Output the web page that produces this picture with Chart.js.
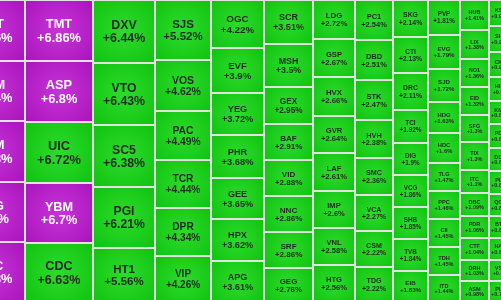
<!DOCTYPE html>
<html>
<head>
<meta charset="utf-8">
<title>Heatmap</title>
<script src="https://cdn.jsdelivr.net/npm/chart.js@4.4.1/dist/chart.umd.min.js"></script>
<style>
  html, body { margin: 0; padding: 0; background: #fff; overflow: hidden; }
  .chart-box { width: 501px; height: 300px; }
</style>
</head>
<body>
<div class="chart-box"><canvas id="heatmapChart"></canvas></div>
<script>
// stocks, sorted by % change (descending)
const tickers = [
  'SGT', 'DHM', 'TCM', 'VPG', 'PTC',
  'TMT', 'ASP', 'UIC', 'YBM', 'CDC',
  'DXV', 'VTO', 'SC5', 'PGI', 'HT1',
  'SJS', 'VOS', 'PAC', 'TCR', 'DPR', 'VIP',
  'OGC', 'EVF', 'YEG', 'PHR', 'GEE', 'HPX', 'APG',
  'SCR', 'MSH', 'GEX', 'BAF', 'VID', 'NNC', 'SRF', 'GEG',
  'LDG', 'GSP', 'HVX', 'GVR', 'LAF', 'IMP', 'VNL', 'HTG',
  'PC1', 'DBD', 'STK', 'HVH', 'SMC', 'VCA', 'CSM', 'TDG',
  'SKG', 'CTI', 'DRC',
  'TCI', 'DIG', 'VCG', 'SHB', 'TVB', 'EIB', 'PVP', 'EVG',
  'SJD', 'HDG', 'HDC',
  'TLG', 'PPC', 'CII',
  'TDH', 'ITD', 'HUB', 'LIX', 'NO1', 'EID', 'SFG', 'TIX',
  'ITC', 'DBC', 'PDR', 'CTF', 'DRH', 'ASM', 'KSB', 'SHP', 'CKG',
  'HHV', 'KMR', 'PDN', 'DCM', 'PLX', 'QCG', 'BTP', 'HAG', 'VSC', 'PLP'
];

const changes = [
  6.96, 6.94, 6.93, 6.9, 6.88,
  6.86, 6.8, 6.72, 6.7, 6.63,
  6.44, 6.43, 6.38, 6.21, 5.56,
  5.52, 4.62, 4.49, 4.44, 4.34, 4.26,
  4.22, 3.9, 3.72, 3.68, 3.65, 3.62, 3.61,
  3.51, 3.5, 2.95, 2.91, 2.88, 2.86, 2.86, 2.76,
  2.72, 2.67, 2.66, 2.64, 2.61, 2.6, 2.58, 2.56,
  2.54, 2.51, 2.47, 2.38, 2.36, 2.27, 2.22, 2.22,
  2.14, 2.13, 2.11,
  1.92, 1.9, 1.86, 1.85, 1.84, 1.83, 1.81, 1.79,
  1.72, 1.63, 1.6,
  1.47, 1.46, 1.45,
  1.45, 1.44, 1.41, 1.38, 1.36, 1.32, 1.3, 1.3,
  1.1, 1.09, 1.06, 1.04, 1.03, 0.98, 0.98, 0.96, 0.94,
  0.9, 0.88, 0.88, 0.87, 0.85, 0.83, 0.82, 0.81, 0.8, 0.79
];

// stocks closing at the ceiling price
const ceilingTickers = ['SGT', 'DHM', 'TCM', 'VPG', 'PTC', 'TMT', 'ASP', 'YBM'];

const BOX_H = 302;          // treemap height, layout units
const AREA_PER_POINT = 607; // layout area for 1 % of change
const SQUARE_RATIO = 1.13;

// vertical strip treemap: fill full-height columns, left to right
function stripLayout(values, width, height) {
  const total = values.reduce((a, b) => a + b, 0);
  const colPerValue = width / total;
  const worst = (s, maxV, minV) => {
    const u = s * s * colPerValue / height / SQUARE_RATIO;
    return Math.max(maxV / u, u / minV);
  };
  const rects = [];
  let x = 0, i0 = 0;
  while (i0 < values.length) {
    let sum = values[i0], maxV = sum, minV = sum;
    let best = worst(sum, maxV, minV);
    let i1 = i0 + 1;
    while (i1 < values.length) {
      const v = values[i1];
      const r = worst(sum + v, Math.max(maxV, v), Math.min(minV, v));
      if (r > best) break;
      sum += v; maxV = Math.max(maxV, v); minV = Math.min(minV, v);
      best = r; i1++;
    }
    const w = sum * colPerValue;
    let y = 0;
    for (let i = i0; i < i1; i++) {
      const h = height * values[i] / sum;
      rects.push({ x0: x, x1: x + w, y0: y, y1: y + h });
      y += h;
    }
    x += w; i0 = i1;
  }
  return rects;
}

const total = changes.reduce((a, b) => a + b, 0);
const rects = stripLayout(changes, total * AREA_PER_POINT / BOX_H, BOX_H);

const cells = tickers.map((t, i) => ({
  x: (rects[i].x0 + rects[i].x1) / 2,
  y: (rects[i].y0 + rects[i].y1) / 2,
  x0: rects[i].x0, x1: rects[i].x1, y0: rects[i].y0, y1: rects[i].y1,
  ticker: t,
  change: changes[i],
  ceiling: ceilingTickers.includes(t)
}));

const cellPlugin = {
  id: 'treemapCells',
  beforeDatasetsDraw(chart) {
    const { ctx, chartArea, scales: { x, y } } = chart;
    ctx.save();
    ctx.fillStyle = '#e2e2e2';
    ctx.fillRect(chartArea.left, chartArea.top, chartArea.width, chartArea.height);
    ctx.beginPath();
    ctx.rect(chartArea.left, chartArea.top, chartArea.width, chartArea.height);
    ctx.clip();

    chart.data.datasets[0].data.forEach(c => {
      const px0 = Math.round(x.getPixelForValue(c.x0));
      const px1 = Math.round(x.getPixelForValue(c.x1));
      const py0 = Math.round(y.getPixelForValue(c.y0));
      const py1 = Math.round(y.getPixelForValue(c.y1));
      const w = px1 - px0, h = py1 - py0;
      const cx = (px0 + px1) / 2, cy = (py0 + py1) / 2;

      const g = ctx.createRadialGradient(cx, cy, 0, cx, cy, Math.hypot(w, h) / 2);
      if (c.ceiling) {
        g.addColorStop(0, '#c634d8');
        g.addColorStop(1, '#a914ba');
      } else {
        g.addColorStop(0, '#2cdc2c');
        g.addColorStop(1, '#10c210');
      }
      ctx.fillStyle = g;
      ctx.fillRect(px0 + 1, py0 + 1, w - 2, h - 2);

      // label size follows the cell size
      const fs = Math.min(13, Math.max(5.5, 0.21 * Math.sqrt(w * h) - 0.7));
      ctx.save();
      ctx.beginPath();
      ctx.rect(px0 + 1, py0 + 1, w - 2, h - 2);
      ctx.clip();
      ctx.font = 'bold ' + fs.toFixed(1) + 'px "Liberation Sans", Arial, sans-serif';
      ctx.textAlign = 'center';
      ctx.textBaseline = 'alphabetic';
      ctx.fillStyle = c.ceiling ? '#ffffff' : '#1f2a1f';
      const b1 = cy - 0.167 * fs;
      ctx.fillText(c.ticker, cx, b1);
      ctx.fillText('+' + c.change + '%', cx, b1 + 1.05 * fs);
      ctx.restore();
    });
    ctx.restore();
  }
};

new Chart(document.getElementById('heatmapChart').getContext('2d'), {
  type: 'scatter',
  data: {
    datasets: [{
      label: 'Change',
      data: cells,
      pointRadius: 0,
      pointHoverRadius: 0,
      pointHitRadius: 0
    }]
  },
  options: {
    animation: false,
    responsive: true,
    maintainAspectRatio: false,
    devicePixelRatio: 1,
    layout: { padding: 0, autoPadding: false },
    events: [],
    scales: {
      x: { type: 'linear', display: false, min: 44.5, max: 545.5 },
      y: { type: 'linear', display: false, reverse: true, min: 0, max: 300 }
    },
    plugins: {
      legend: { display: false },
      tooltip: { enabled: false }
    }
  },
  plugins: [cellPlugin]
});
</script>
</body>
</html>
